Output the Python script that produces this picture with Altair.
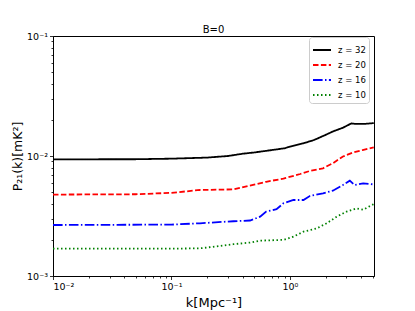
import altair as alt
import pandas as pd

labels = ["z = 32", "z = 20", "z = 16", "z = 10"]
colors = ["#000000", "#ff0000", "#0000ff", "#008000"]
dashes = [[1, 0], [5.5, 2.4], [9.6, 2.4, 1.5, 2.4], [1.5, 2.5]]

k32 = [0.01, 0.05, 0.1, 0.2, 0.3, 0.4, 0.5, 0.7, 0.9, 1.0, 1.3, 1.6, 2.0, 2.3, 2.8, 3.3, 3.6, 4.2, 5.1]
p32 = [0.00938, 0.0094, 0.0095, 0.0097, 0.0100, 0.01045, 0.0107, 0.0112, 0.0116, 0.01196, 0.01276, 0.0136, 0.0150, 0.0160, 0.0172, 0.0187, 0.0185, 0.0185, 0.0188]

k20 = [0.01, 0.05, 0.1, 0.174, 0.333, 0.63, 0.88, 1.22, 1.47, 1.9, 2.3, 2.8, 3.4, 4.1, 5.1]
p20 = [0.00477, 0.0048, 0.00493, 0.00521, 0.00527, 0.0061, 0.00648, 0.00708, 0.0075, 0.0079, 0.0087, 0.0099, 0.0107, 0.0112, 0.0118]

k16 = [0.01, 0.1, 0.174, 0.333, 0.46, 0.56, 0.63, 0.77, 0.88, 1.07, 1.3, 1.47, 1.9, 2.3, 2.8, 3.2, 3.5, 4.15, 5.1]
p16 = [0.00266, 0.00268, 0.00275, 0.00286, 0.0029, 0.00312, 0.00344, 0.0036, 0.00403, 0.0043, 0.0043, 0.00464, 0.00489, 0.00514, 0.00573, 0.00623, 0.00573, 0.00592, 0.0058]

k10 = [0.01, 0.1, 0.174, 0.256, 0.333, 0.46, 0.56, 0.88, 1.07, 1.3, 1.68, 2.04, 2.48, 3.0, 3.65, 4.15, 5.1]
p10 = [0.00169, 0.00169, 0.0017, 0.00178, 0.00184, 0.0019, 0.00197, 0.002, 0.00213, 0.00234, 0.00249, 0.00275, 0.00312, 0.00344, 0.00366, 0.00357, 0.00398]

x_ticks = [0.01, 0.02, 0.03, 0.04, 0.05, 0.06, 0.07, 0.08, 0.09,
           0.1, 0.2, 0.3, 0.4, 0.5, 0.6, 0.7, 0.8, 0.9, 1, 2, 3, 4, 5]
y_ticks = [0.001, 0.002, 0.003, 0.004, 0.005, 0.006, 0.007, 0.008, 0.009,
           0.01, 0.02, 0.03, 0.04, 0.05, 0.06, 0.07, 0.08, 0.09, 0.1]

rows = []
for lab, ks, ps in zip(labels, [k32, k20, k16, k10], [p32, p20, p16, p10]):
    for kk, pp in zip(ks, ps):
        rows.append({"k": kk, "P": pp, "z": lab})
df = pd.DataFrame(rows)

FONT = "DejaVu Sans"
major_test = "abs(log(datum.value)/LN10 - round(log(datum.value)/LN10)) < 0.001"
label_expr = ("abs(log(datum.value)/LN10 - round(log(datum.value)/LN10)) < 0.001 ? "
              "(round(log(datum.value)/LN10) == -3 ? '10⁻³' : round(log(datum.value)/LN10) == -2 ? '10⁻²' : "
              "round(log(datum.value)/LN10) == -1 ? '10⁻¹' : '10⁰') : ''")

def axis(title, values, pad, fs):
    return alt.Axis(
        title=title, values=values, labelExpr=label_expr, grid=False,
        tickSize={"condition": {"test": major_test, "value": 3.5}, "value": 2},
        tickColor="black", domainColor="black", labelColor="black",
        labelFont=FONT, labelFontSize=9.5, titleFont=FONT, titleFontSize=fs,
        titleFontWeight="normal", titleColor="black", titlePadding=pad,
        labelPadding=2, tickWidth=0.8, domainWidth=1,
    )

chart = alt.Chart(df).mark_line(strokeWidth=1.8, strokeCap="butt", clip=True).encode(
    x=alt.X("k:Q", scale=alt.Scale(type="log", domain=[0.01, 5.12], nice=False),
            axis=axis("k[Mpc⁻¹]", x_ticks, 5, 13)),
    y=alt.Y("P:Q", scale=alt.Scale(type="log", domain=[0.001, 0.1], nice=False),
            axis=axis("P₂₁(k)[mK²]", y_ticks, 2, 12.5)),
    color=alt.Color("z:N", scale=alt.Scale(domain=labels, range=colors),
                    legend=alt.Legend(title=None)),
    strokeDash=alt.StrokeDash("z:N", scale=alt.Scale(domain=labels, range=dashes),
                              legend=alt.Legend(title=None)),
    detail="z:N",
).properties(
    width=321, height=240,
    title=alt.TitleParams("B=0", font=FONT, fontSize=10, fontWeight="normal", color="black",
                          offset=5, frame="group", dy=9),
    autosize=alt.AutoSizeParams(type="none"),
    padding={"left": 45, "top": 28, "right": 25, "bottom": 35},
).configure_view(stroke="black", strokeWidth=1).configure_legend(
    orient="none", legendX=256, legendY=1, strokeColor="#cccccc", fillColor="white",
    padding=3, cornerRadius=3, labelFont=FONT, labelFontSize=8.5, labelColor="black",
    symbolType="stroke", symbolSize=324, symbolStrokeWidth=1.8, rowPadding=-5,
    labelOffset=6,
)

chart.save("out.html", embed_options={"renderer": "svg", "actions": False})
